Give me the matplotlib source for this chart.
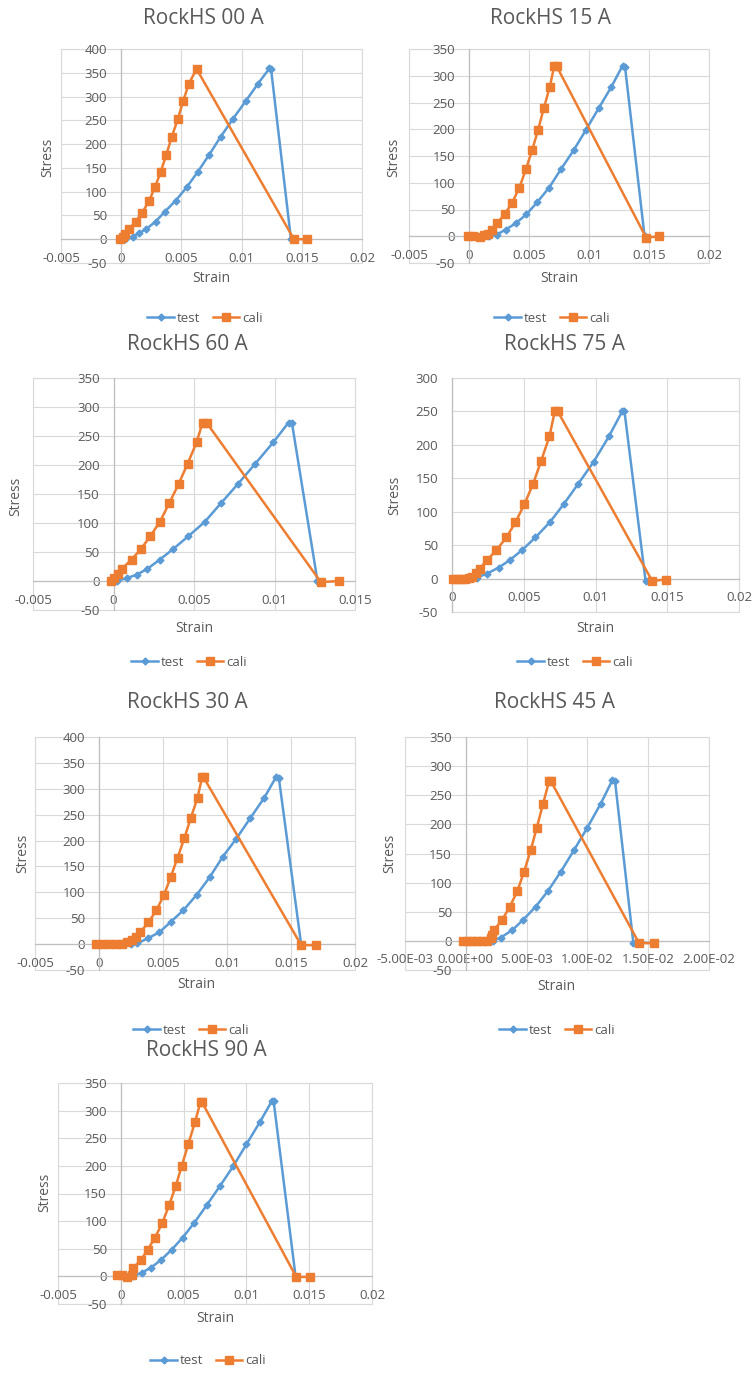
import matplotlib
matplotlib.use('Agg')
import matplotlib.pyplot as plt
from matplotlib.ticker import FuncFormatter
from matplotlib.patches import Rectangle
import numpy as np

plt.rcParams['font.family'] = ['Open Sans', 'DejaVu Sans']

BLUE = '#5B9BD5'
ORANGE = '#ED7D31'
TXT = '#595959'
GRID = '#D9D9D9'
AXIS = '#BFBFBF'

W, H = 754, 1374

# ---- data ----
titles = ['RockHS 00 A', 'RockHS 15 A', 'RockHS 60 A', 'RockHS 75 A',
          'RockHS 30 A', 'RockHS 45 A', 'RockHS 90 A']

test_x_00 = [0.0003, 0.00097, 0.00147, 0.0021, 0.00285, 0.00363, 0.00452, 0.00543, 0.00637,
             0.00729, 0.00825, 0.00928, 0.01033, 0.01136, 0.0123, 0.01245, 0.0141]
test_y_00 = [0, 5.6, 12.6, 21.8, 37, 58, 81, 109, 142, 177, 215, 253, 290, 327, 359, 357, 0]
cali_x_00 = [-0.0001, 0.00017, 0.0003, 0.00064, 0.00119, 0.00175, 0.0023, 0.0028, 0.00327,
             0.00374, 0.00418, 0.00471, 0.00515, 0.00562, 0.00626, 0.01435, 0.0154]
cali_y_00 = [0, 4, 12, 21, 37, 56, 80, 109, 141, 177, 214, 253, 291, 327, 358, 0, 0]

test_x_15 = [0.0017, 0.0023, 0.00307, 0.00388, 0.00479, 0.0057, 0.00668, 0.00765, 0.00873,
             0.00975, 0.0108, 0.01186, 0.0128, 0.0130, 0.01463]
test_y_15 = [0, 3, 12.5, 24, 41, 64, 91, 125, 161, 199, 239, 279, 319, 317, 0]
cali_x_15 = [-0.0001, 0.00036, 0.00091, 0.00127, 0.0016, 0.00188, 0.00235, 0.003, 0.0036,
             0.0042, 0.00474, 0.00526, 0.00576, 0.00623, 0.00673, 0.0071, 0.0073, 0.01476, 0.01587]
cali_y_15 = [0, 1, -1, 2, 5, 11, 25, 42, 63, 91, 125, 161, 199, 239, 279, 318, 318, -2.5, 0]

test_x_60 = [0.0002, 0.00083, 0.00145, 0.00211, 0.00288, 0.0037, 0.00464, 0.00567, 0.00667,
             0.00772, 0.0088, 0.00992, 0.01087, 0.01108, 0.01267]
test_y_60 = [0, 5, 11, 21, 37, 55, 77, 102, 134, 167, 202, 239, 273, 273, 0]
cali_x_60 = [-0.00017, 0.00004, 0.00025, 0.00052, 0.00112, 0.0017, 0.00228, 0.00288, 0.00346,
             0.00404, 0.0046, 0.00516, 0.00553, 0.00578, 0.01288, 0.01402]
cali_y_60 = [0, 5, 12.6, 21, 37, 55, 77, 102, 134, 167, 202, 239, 273, 273, -2, 0]

test_x_75 = [0.0012, 0.00174, 0.00244, 0.00326, 0.00402, 0.00488, 0.00581, 0.00681, 0.00779,
             0.00879, 0.00988, 0.01093, 0.01186, 0.01202, 0.01349]
test_y_75 = [0, 1.5, 7.5, 16.5, 27.5, 42.5, 61.5, 84, 111.5, 141.5, 175, 212.5, 250, 250, -3.5]
cali_x_75 = [0.00007, 0.00035, 0.00063, 0.00093, 0.00116, 0.0014, 0.00167, 0.00193, 0.00244,
             0.00309, 0.00379, 0.00442, 0.00505, 0.00565, 0.00621, 0.00679, 0.00716, 0.00737,
             0.01395, 0.01488]
cali_y_75 = [0, 0, 0, 0, 1, 2.5, 8.5, 15, 27.5, 42.5, 61.5, 84, 111.5, 141.5, 176, 212.5,
             250, 250, -3.5, -1.5]

test_x_30 = [0.0025, 0.003, 0.00379, 0.0047, 0.00561, 0.0066, 0.00765, 0.00867, 0.00966,
             0.0107, 0.01183, 0.01292, 0.01384, 0.01405, 0.0158]
test_y_30 = [0, 1.3, 11, 22.5, 43, 65.6, 95.8, 130, 168.5, 202.6, 243.7, 283, 323, 321, -2]
cali_x_30 = [-0.00026, 0.00026, 0.00078, 0.0013, 0.00183, 0.00222, 0.00261, 0.00287, 0.00321,
             0.00386, 0.00449, 0.00509, 0.00561, 0.00614, 0.00666, 0.00718, 0.0077, 0.00805,
             0.00817, 0.0158, 0.01697]
cali_y_30 = [0, 0, 0, 0, 1, 4.5, 7.7, 14, 22.5, 42, 65.6, 95.8, 130, 167, 204, 244, 283,
             322, 322, -2, -2]

test_x_45 = [0.0022, 0.00288, 0.00384, 0.00471, 0.00575, 0.00677, 0.00781, 0.0089, 0.01,
             0.0111, 0.01205, 0.01227, 0.01378]
test_y_45 = [0, 5.7, 18.8, 36, 58.8, 86, 118.7, 155.8, 194.6, 235.7, 275.7, 274.5, -4]
cali_x_45 = [-0.00027, 0.00014, 0.00055, 0.00096, 0.00137, 0.00178, 0.00205, 0.00219, 0.00233,
             0.00299, 0.00362, 0.00425, 0.00479, 0.00534, 0.00584, 0.00636, 0.00685, 0.00699,
             0.01425, 0.01548]
cali_y_45 = [0, 0, -1, -1, -1, 0.5, 4.5, 10, 19, 36, 58.8, 86, 118.7, 155.8, 194.6, 235.7,
             274.5, 274.5, -4, -4]

test_x_90 = [0.00095, 0.00167, 0.00238, 0.00317, 0.00405, 0.00492, 0.00585, 0.00683, 0.00788,
             0.00894, 0.01, 0.01106, 0.01204, 0.01217, 0.01392]
test_y_90 = [0, 6.6, 15.7, 29, 48.3, 70, 97, 128.5, 163, 199, 239, 278.7, 318, 316.7, -1]
cali_x_90 = [-0.00032, 0.00008, 0.00053, 0.00087, 0.001, 0.00159, 0.00214, 0.00272, 0.00331,
             0.00384, 0.00437, 0.00484, 0.00537, 0.0059, 0.00635, 0.00645, 0.01397, 0.01508]
cali_y_90 = [2, 2, -1, 2, 15.7, 29, 48.3, 70, 97, 128.5, 163, 199, 239, 278.7, 316, 316, -1, -1]

tests = [(test_x_00, test_y_00), (test_x_15, test_y_15), (test_x_60, test_y_60),
         (test_x_75, test_y_75), (test_x_30, test_y_30), (test_x_45, test_y_45),
         (test_x_90, test_y_90)]
calis = [(cali_x_00, cali_y_00), (cali_x_15, cali_y_15), (cali_x_60, cali_y_60),
         (cali_x_75, cali_y_75), (cali_x_30, cali_y_30), (cali_x_45, cali_y_45),
         (cali_x_90, cali_y_90)]

x_ranges = [(-0.005, 0.02), (-0.005, 0.02), (-0.005, 0.015), (0, 0.02),
            (-0.005, 0.02), (-0.005, 0.02), (-0.005, 0.02)]
y_ranges = [(-50, 400), (-50, 350), (-50, 350), (-50, 300),
            (-50, 400), (-50, 350), (-50, 350)]
sci_x = [False, False, False, False, False, True, False]

# ---- layout in pixels: plot box (l, t, r, b), title, xlabel, ylabel, legend centres ----
layout = [
    dict(box=(61, 49, 362, 263), title=(203, 18), xl=(211, 278), yl=(48, 157), leg=(205, 318)),
    dict(box=(409, 49, 709, 263), title=(550, 18), xl=(559, 278), yl=(394, 157), leg=(552, 318)),
    dict(box=(33, 378, 355, 610), title=(187, 345), xl=(194, 628), yl=(16, 496), leg=(189, 662)),
    dict(box=(452, 378, 739, 612), title=(565, 345), xl=(595, 628), yl=(395, 495), leg=(575, 662)),
    dict(box=(35, 737, 355, 970), title=(187, 702), xl=(196, 985), yl=(23, 853), leg=(191, 1030)),
    dict(box=(405, 737, 709, 970), title=(554, 702), xl=(556, 986), yl=(390, 853), leg=(557, 1030)),
    dict(box=(58, 1083, 372, 1304), title=(206, 1050), xl=(215, 1319), yl=(45, 1192), leg=(208, 1361)),
]


def fx(x):
    return x / W


def fy(y):
    return 1 - y / H


fig = plt.figure(figsize=(W / 100, H / 100), dpi=100)
fig.patch.set_facecolor('white')

for i in range(len(titles)):
    lay = layout[i]
    l, t, r, b = lay['box']
    ax = fig.add_axes([fx(l), fy(b), (r - l) / W, (b - t) / H])

    x0, x1 = x_ranges[i]
    y0, y1 = y_ranges[i]
    ax.set_xlim(x0, x1)
    ax.set_ylim(y0, y1)
    ax.set_xticks(np.arange(x0, x1 + 1e-9, 0.005))
    ax.set_yticks(np.arange(y0, y1 + 1, 50))
    if sci_x[i]:
        ax.xaxis.set_major_formatter(FuncFormatter(lambda v, p: f'{v:.2E}'))
    else:
        ax.xaxis.set_major_formatter(FuncFormatter(lambda v, p: f'{round(v, 4):g}'))
    ax.yaxis.set_major_formatter(FuncFormatter(lambda v, p: f'{v:g}'))

    ax.grid(True, color=GRID, lw=0.8)
    ax.set_axisbelow(True)
    for s in ['top', 'right']:
        ax.spines[s].set_visible(False)
    ax.spines['left'].set_position(('data', 0))
    ax.spines['bottom'].set_position(('data', 0))
    for s in ['left', 'bottom']:
        ax.spines[s].set_color(AXIS)
        ax.spines[s].set_linewidth(0.9)
    ax.add_patch(Rectangle((0, 0), 1, 1, transform=ax.transAxes, fill=False,
                           edgecolor=GRID, lw=0.8, clip_on=False, zorder=0))
    ax.tick_params(length=0, labelcolor=TXT, labelsize=9.5)
    ax.tick_params(axis='x', pad=9)
    ax.tick_params(axis='y', pad=10)

    tx, ty = tests[i]
    cx, cy = calis[i]
    ax.plot(tx, ty, color=BLUE, lw=1.8, marker='D', ms=3.5, label='test', zorder=3, clip_on=False)
    ax.plot(cx, cy, color=ORANGE, lw=1.8, marker='s', ms=5.5, label='cali', zorder=3, clip_on=False)

    fig.text(fx(lay['title'][0]), fy(lay['title'][1]), titles[i], ha='center', va='center',
             fontsize=15, color=TXT)
    fig.text(fx(lay['xl'][0]), fy(lay['xl'][1]), 'Strain', ha='center', va='center',
             fontsize=10, color=TXT)
    fig.text(fx(lay['yl'][0]), fy(lay['yl'][1]), 'Stress', ha='center', va='center',
             fontsize=10, color=TXT, rotation=90)
    ax.legend(loc='center', bbox_to_anchor=(fx(lay['leg'][0]), fy(lay['leg'][1])),
              bbox_transform=fig.transFigure, ncol=2, frameon=False, fontsize=9.5,
              labelcolor=TXT, handlelength=2.0, handletextpad=0.2, columnspacing=1.0,
              borderpad=0)

fig.savefig('out.png', dpi=100)
